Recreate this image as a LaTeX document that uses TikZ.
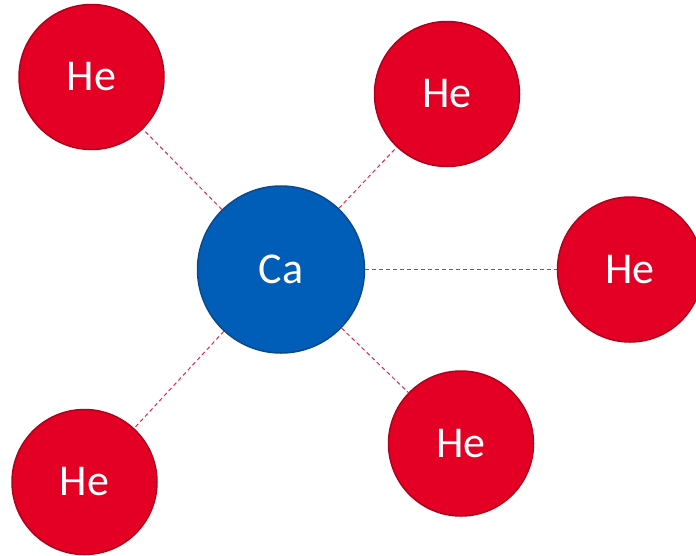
\documentclass[tikz,border=0pt]{standalone}
\usepackage{fontspec}
\setmainfont{Carlito}
\definecolor{hered}{HTML}{E30024}
\definecolor{heborder}{HTML}{B2001C}
\definecolor{cablue}{HTML}{005EB8}
\definecolor{caborder}{HTML}{0A4A8C}
\definecolor{bondred}{HTML}{E8234A}
\begin{document}
\begin{tikzpicture}[x=1pt,y=-1pt,
  he/.style={circle,fill=hered,draw=heborder,line width=1.5pt,minimum size=145pt,inner sep=0pt,text=white,font=\fontsize{44}{44}\selectfont},
  ca/.style={circle,fill=cablue,draw=caborder,line width=1.5pt,minimum size=167pt,inner sep=0pt,text=white,font=\fontsize{44}{44}\selectfont},
  bond/.style={draw=bondred,line width=1pt,dash pattern=on 4pt off 3pt}]
\useasboundingbox (0,0) rectangle (696,555);
\node[ca] (ca) at (281,269.5) {Ca};
\node[he] (he1) at (91.5,77) {He};
\node[he] (he2) at (447,94) {He};
\node[he] (he3) at (630,269.5) {He};
\node[he] (he4) at (461,443.5) {He};
\node[he] (he5) at (84.5,482) {He};
\draw[bond] (ca) -- (he1);
\draw[bond] (ca) -- (he2);
\draw[bond] (ca) -- (he3);
\draw[bond] (ca) -- (he4);
\draw[bond] (ca) -- (he5);
\end{tikzpicture}
\end{document}
